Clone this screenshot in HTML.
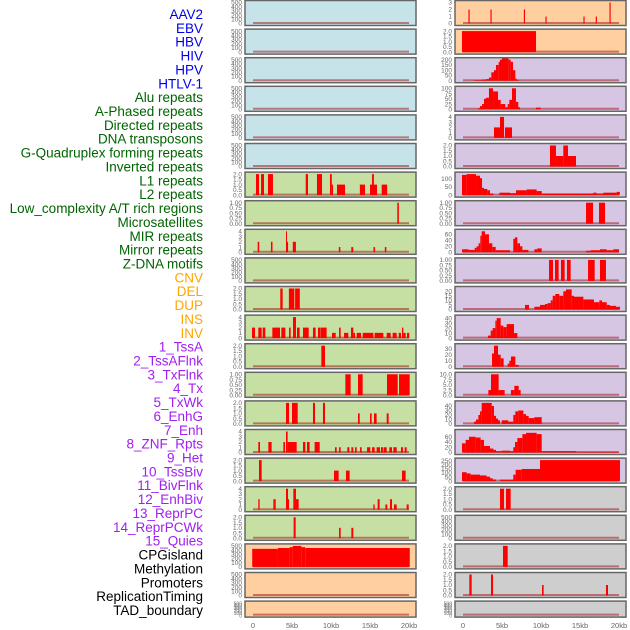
<!DOCTYPE html>
<html><head><meta charset="utf-8">
<style>
body{margin:0;background:#fff;}
svg{display:block;font-family:"Liberation Sans",sans-serif;}
</style></head>
<body>
<svg id="chart" width="630" height="630" viewBox="0 0 630 630"></svg>
<script>
const labels = ["AAV2","EBV","HBV","HIV","HPV","HTLV-1","Alu repeats","A-Phased repeats","Directed repeats","DNA transposons","G-Quadruplex forming repeats","Inverted repeats","L1 repeats","L2 repeats","Low_complexity A/T rich regions","Microsatellites","MIR repeats","Mirror repeats","Z-DNA motifs","CNV","DEL","DUP","INS","INV","1_TssA","2_TssAFlnk","3_TxFlnk","4_Tx","5_TxWk","6_EnhG","7_Enh","8_ZNF_Rpts","9_Het","10_TssBiv","11_BivFlnk","12_EnhBiv","13_ReprPC","14_ReprPCWk","15_Quies","CPGisland","Methylation","Promoters","ReplicationTiming","TAD_boundary"];
const labelColors = [].concat(Array(6).fill("#0000ee"),Array(13).fill("#006400"),Array(5).fill("#ffa500"),Array(15).fill("#a020f0"),Array(5).fill("#000000"));
const xTicks = [0,5,10,15,20];
const xTickLabels = ["0","5kb","10kb","15kb","20kb"];

const T500=[0,100,200,300,400,500], T2=[0,0.5,1,1.5,2], T1=[0,0.25,0.5,0.75,1], T4=[0,1,2,3,4];
const leftBg = [].concat(Array(6).fill("#c6e3ea"),Array(13).fill("#c6e0a4"),Array(3).fill("#ffcf9f"));
const rightBg = [].concat(Array(2).fill("#ffcf9f"),Array(15).fill("#d6c6e3"),Array(5).fill("#cecece"));
const leftTicks = [T500,T500,T500,T500,T500,T500,T2,T1,T4,T500,T2,T4,T2,T1,T2,T4,T2,T4,T2,T500,T500,T500];
const leftYmax = [500,500,500,500,500,500,2,1,4,500,2,4,2,1,2,4,2,4,2,500,500,500];
const rightTicks = [[0,1,2,3],T2,[0,50,100,150,200],[0,25,50,75,100],[0,1,2,3,4],T2,[0,50,100],T1,[0,20,40,60],T1,[0,5,10,15,20],[0,10,20,30,40],[0,10,20,30],[0,2.5,5,7.5,10],[0,10,20,30,40],[0,20,40,60],[0,50,100,150,200,250],T2,T500,T2,T2,T500];
const rightYmax = [3,2,200,100,4,2,130,1,70,1,23,42,35,10,47,80,260,2,500,2,2,500];

const leftBars = [[],[],[],[],[],[],
[[0.38,0.77,2],[1.03,1.41,2],[1.92,2.56,2],[6.76,7.05,2],[8.2,8.85,2],[9.87,10.1,2],[10.1,10.26,1],[10.77,11.8,1],[13.7,14.36,1],[15,15.9,1],[15.26,15.5,2],[16.5,17.2,1]],
[[18.5,18.7,1]],
[[0.6,0.8,2],[2.3,2.5,2],[4.23,4.35,4],[4.35,4.5,2],[5.1,5.5,2],[11.0,11.2,1],[12.6,12.85,1],[15.45,15.65,1],[16.9,17.1,1]],
[],
[[3.5,3.8,2],[4.6,5.3,2],[5.4,6.0,2]],
[[-0.13,0.26,2],[0.68,1.11,2],[1.24,1.58,2],[2.48,3.46,2],[3.63,4.15,2],[4.62,4.83,2],[5.13,5.51,4],[5.64,5.98,2],[6.41,7.14,2],[7.69,8.03,2],[8.33,8.59,2],[8.63,9.44,2],[10.13,10.6,1],[11.03,11.24,2],[11.67,12.22,1],[12.56,12.86,2],[12.86,13.08,1],[13.29,13.85,1],[14.06,15.43,1],[15.6,16.71,1],[17.14,17.65,1],[17.9,18.42,1],[18.68,18.97,1],[19.1,19.27,2],[19.27,19.57,1],[19.74,20.04,1]],
[[8.76,9.23,2]],
[[11.84,12.52,1],[13.46,14.06,1],[17.18,18.55,1],[18.72,20.09,1]],
[[4.23,4.62,2],[5.0,5.73,2],[7.69,7.95,2],[8.97,9.23,2],[13.46,13.68,1],[15.0,15.21,1],[15.51,15.85,1],[17.14,17.39,1]],
[[0.68,0.9,2],[1.97,2.39,2],[3.89,4.1,2],[4.23,4.44,4],[4.44,5.6,2],[6.41,6.71,2],[6.92,7.26,2],[7.9,8.55,2],[10.51,10.73,1],[11.03,11.24,1],[12.09,12.35,1],[12.61,12.86,1],[13.08,13.29,1],[13.72,13.93,1],[14.62,15.04,1],[15.26,15.6,1],[15.85,16.28,1],[16.41,16.71,1],[16.79,17.14,1],[17.48,17.82,1],[18.0,18.42,1],[18.97,19.23,1],[19.44,19.7,1]],
[[0.77,1.11,2],[10.38,10.98,1],[11.92,12.39,1],[19.1,19.57,1]],
[[0.68,0.85,2],[2.61,2.91,2],[4.23,4.49,4],[4.49,4.62,2],[5.17,5.51,4],[5.51,5.85,2],[15.43,15.6,1],[15.98,16.24,2],[16.97,17.22,1],[17.56,17.82,2],[18.08,18.42,1],[19.7,19.96,1]],
[[5.21,5.47,2],[11.03,11.24,1],[12.61,12.86,1]],
[[-0.1,3.2,430],[3.2,4.7,450],[4.7,5.1,470],[5.1,6.2,500],[6.2,6.7,470],[6.7,20.1,450]],
[],[]];

const rightBars = [
[[0.7,0.85,2],[3.52,3.67,2],[7.8,7.95,2],[10.57,10.72,1],[15.44,15.59,1],[17.02,17.17,1],[18.78,18.93,3]],
[[-0.13,9.36,2]],
[[1.41,2.39,5],[2.39,2.9,10],[2.9,3.33,15],[3.33,3.63,30],[3.63,3.97,80],[3.97,4.23,100],[4.23,4.57,150],[4.57,4.74,180],[4.74,5.0,200],[5.0,5.85,220],[5.85,6.11,200],[6.11,6.41,180],[6.41,6.71,100],[6.71,6.88,20],[6.88,7.14,8]],
[[1.92,2.18,5],[2.18,2.44,15],[2.44,2.69,25],[2.69,2.95,50],[2.95,3.33,55],[3.33,3.85,100],[3.85,4.49,85],[4.49,4.83,45],[4.83,5.43,25],[5.43,5.73,10],[5.73,5.94,25],[5.94,6.28,45],[6.28,6.79,100],[6.79,7.09,35],[7.09,7.31,10],[9.36,9.96,8]],
[[3.97,4.74,2],[4.74,5.26,4],[5.38,6.28,2]],
[[11.15,11.92,2],[11.92,12.86,1],[12.86,13.46,2],[13.46,14.49,1]],
[[-0.13,0.47,125],[0.47,1.67,130],[1.67,2.18,120],[2.18,2.44,105],[2.44,2.69,45],[2.69,3.12,38],[3.12,3.46,30],[3.46,3.89,10],[4.66,6.03,15],[6.03,6.79,12],[6.79,8.16,30],[8.16,9.44,35],[9.44,10.09,25],[10.09,16.7,10],[16.7,17.1,15],[17.1,17.99,10],[17.99,19.7,15],[19.7,20.1,20]],
[[15.77,16.67,1],[17.44,18.21,1]],
[[-0.13,0.73,10],[0.73,1.5,8],[1.5,1.75,15],[1.75,2.0,20],[2.0,2.22,30],[2.22,2.39,55],[2.39,2.82,70],[2.82,3.33,60],[3.33,3.76,30],[3.76,4.19,18],[4.19,6.03,7],[6.45,6.67,45],[6.67,6.97,50],[6.97,7.31,30],[7.31,7.61,20],[7.61,8.38,8],[9.15,9.53,10],[9.53,10.09,13],[15.77,16.37,5],[16.37,17.56,7],[17.56,18.42,10],[18.42,19.27,7],[19.27,20.0,10]],
[[11.03,11.54,1],[11.79,12.26,1],[12.56,13.03,1],[13.33,13.8,1],[16.03,16.88,1],[17.56,18.33,1]],
[[7.95,8.46,5],[9.15,9.87,3],[9.87,10.51,5],[10.51,10.85,6],[10.85,11.24,7],[11.24,11.5,10],[11.5,11.84,15],[11.84,12.35,17],[12.35,12.86,15],[12.86,13.2,20],[13.2,13.93,22],[13.93,14.23,15],[14.23,15.43,14],[15.43,16.28,11],[16.28,16.79,11],[16.79,17.48,8],[17.48,17.82,10],[17.82,18.42,8],[18.42,18.85,5],[18.85,19.62,4],[19.62,20.13,3]],
[[3.2,3.55,5],[3.55,3.8,15],[3.8,4.15,20],[4.15,4.32,35],[4.32,4.83,40],[4.83,5.17,25],[5.17,5.6,22],[5.6,6.54,28],[6.54,6.97,10]],
[[3.72,3.97,22],[3.97,4.49,35],[4.49,4.83,20],[4.83,5.21,14],[5.73,5.94,5],[5.94,6.15,10],[6.15,6.71,17],[6.71,7.14,3]],
[[3.25,3.59,2.5],[3.59,4.57,10],[4.57,5.34,2.5],[6.15,6.58,2.5],[6.58,7.14,4.5],[7.14,7.39,2.5]],
[[1.41,1.67,5],[1.67,1.97,10],[1.97,2.18,20],[2.18,2.39,28],[2.39,3.68,47],[3.68,3.97,40],[3.97,4.23,18],[4.23,4.49,12],[4.49,4.74,8],[4.96,5.81,8],[5.81,6.45,5],[6.45,6.71,20],[6.71,7.09,28],[7.09,7.74,30],[7.74,8.08,22],[8.08,8.42,18],[8.42,9.15,13],[9.15,10.09,15]],
[[-0.13,0.34,35],[0.34,0.77,48],[0.77,1.62,60],[1.62,2.26,57],[2.26,2.69,48],[2.69,3.46,25],[3.46,3.89,15],[3.89,4.23,10],[4.23,4.96,5],[4.96,6.03,7],[6.03,6.45,5],[6.45,6.67,20],[6.67,6.97,40],[6.97,7.61,55],[7.61,8.08,70],[8.08,9.44,75],[9.44,10.09,70],[10.09,14.49,5],[14.49,20.0,2]],
[[-0.13,0.47,110],[0.47,0.98,95],[0.98,2.18,80],[2.18,3.03,70],[3.03,3.46,55],[3.46,3.8,35],[3.8,4.23,20],[4.74,6.45,18],[6.45,6.75,80],[6.75,7.52,140],[7.52,9.87,150],[9.87,20.13,260]],
[[4.74,5.26,2],[5.51,6.11,2]],
[],
[[5.13,5.73,2]],
[[0.81,1.11,2],[3.59,3.85,2],[10.13,10.34,1],[18.33,18.59,1]],
[]];

const NS="http://www.w3.org/2000/svg";
const svg=document.getElementById('chart');
function mk(tag,attrs,parent){const e=document.createElementNS(NS,tag);for(const k in attrs)e.setAttribute(k,attrs[k]);(parent||svg).appendChild(e);return e;}

// labels
labels.forEach((t,i)=>{
  const el=mk('text',{x:203,y:19+i*13.86,'text-anchor':'end','font-size':'13.5',fill:labelColors[i]});
  el.textContent=t;
  
  
});

const STEP=28.6, KB=7.8;
function drawPanel(col,i,bars,ticks,ymax,bg){
  const bx = col===0?245:455, bw=171;
  const x0 = col===0?253:463;
  const top=i*STEP+0.5, h=(i===21)?16:25, bottom=top+h;
  const g=mk('g',{});
  
  
  const clipId='c'+col+'_'+i;
  const cp=mk('clipPath',{id:clipId},g);
  mk('rect',{x:bx,y:top,width:bw,height:h},cp);
  mk('rect',{x:bx,y:top,width:bw,height:h,fill:bg},g);
  const ys=v=>bottom-2-v/ymax*(h-4);
  const xs=k=>x0+k*KB;
  const inner=mk('g',{'clip-path':'url(#'+clipId+')'},g);
  mk('line',{x1:xs(0),x2:xs(20),y1:ys(0)-0.5,y2:ys(0)-0.5,stroke:'#a01010','stroke-width':2,opacity:0.5},inner);
  bars.forEach(b=>{
    const r=mk('rect',{x:xs(b[0]),y:ys(b[2]),width:Math.max(1,xs(b[1])-xs(b[0])),height:ys(0)-ys(b[2]),fill:'#ff0000'},inner);
    
    
  });
  mk('rect',{x:bx,y:top,width:bw,height:h,fill:'none',stroke:'#666','stroke-width':1.5},g);
  const fs = h<20?5:6.5;
  ticks.forEach(t=>{
    const lab=mk('text',{x:bx-3,y:ys(t)+2.2,'text-anchor':'end','font-size':fs,fill:'#666'},g);
    lab.textContent = (ymax<=2 && ticks.length>4)?(ymax===1?t.toFixed(2):t.toFixed(1)):(ymax===10?t.toFixed(1):String(t));
    
    
  });
}
for(let i=0;i<22;i++){
  drawPanel(0,i,leftBars[i],leftTicks[i],leftYmax[i],leftBg[i]);
  drawPanel(1,i,rightBars[i],rightTicks[i],rightYmax[i],rightBg[i]);
}
[253,463].forEach((x0,c)=>{
  xTicks.forEach((k,j)=>{
    const t=mk('text',{x:x0+k*KB,y:628,'text-anchor':'middle','font-size':7.5,fill:'#666'});
    t.textContent=xTickLabels[j];
    
    
  });
});
</script>
</body></html>
